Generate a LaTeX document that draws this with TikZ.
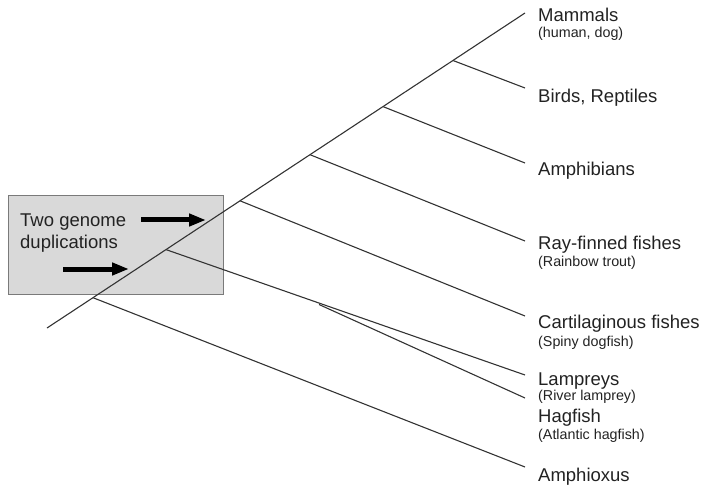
\documentclass[tikz,border=0pt]{standalone}
\usepackage{fontspec}
\setmainfont{Liberation Sans}
\usetikzlibrary{arrows.meta}
\definecolor{ink}{HTML}{222222}
\definecolor{linec}{HTML}{333333}
\definecolor{boxfill}{HTML}{D9D9D9}
\definecolor{boxline}{HTML}{7A7A7A}
\tikzset{
  branch/.style={draw=linec, line width=1.1pt},
  bigtxt/.style={anchor=base west, inner sep=0pt, text=ink, font=\fontsize{18.5}{21}\selectfont},
  smalltxt/.style={anchor=base west, inner sep=0pt, text=ink, font=\fontsize{14.3}{16}\selectfont},
  dupbox/.style={draw=boxline, fill=boxfill, line width=0.9pt},
  fatarrow/.style={draw=black, line width=5pt, -{Triangle[length=17pt,width=12pt]}}
}
\begin{document}
\begin{tikzpicture}[x=1pt,y=-1pt]
\useasboundingbox (0,0) rectangle (706,486);
% box
\draw[dupbox] (8,195) rectangle (223,294);
\node[bigtxt] (t1) at (20,227) {Two genome};
\node[bigtxt] (t2) at (20,248) {duplications};
\coordinate (a1s) at (141,220); \coordinate (a1e) at (206,220);
\coordinate (a2s) at (63,269);  \coordinate (a2e) at (129,269);
\draw[fatarrow] (a1s) -- (a1e);
\draw[fatarrow] (a2s) -- (a2e);
% tree
\coordinate (root) at (47,328);
\coordinate (top) at (525,13);
\coordinate (bBirds) at (453,60.5);
\coordinate (bAmph) at (383,106.6);
\coordinate (bRay) at (310,154.7);
\coordinate (bCart) at (240,200.8);
\coordinate (bLamp) at (166,249.6);
\coordinate (bHag) at (319,304.5);
\coordinate (bAmphi) at (93,297.7);
\coordinate (eBirds) at (525,88);
\coordinate (eAmph) at (525,163);
\coordinate (eRay) at (525,241);
\coordinate (eCart) at (525,316);
\coordinate (eLamp) at (525,375);
\coordinate (eHag) at (525,398);
\coordinate (eAmphi) at (525,467);
\draw[branch] (root) -- (top);
\draw[branch] (bBirds) -- (eBirds);
\draw[branch] (bAmph) -- (eAmph);
\draw[branch] (bRay) -- (eRay);
\draw[branch] (bCart) -- (eCart);
\draw[branch] (bLamp) -- (eLamp);
\draw[branch] (bHag) -- (eHag);
\draw[branch] (bAmphi) -- (eAmphi);
% labels
\node[bigtxt] (lMam) at (538,22) {Mammals};
\node[smalltxt] (sMam) at (538,38) {(human, dog)};
\node[bigtxt] (lBird) at (538,103) {Birds, Reptiles};
\node[bigtxt] (lAmph) at (538,176) {Amphibians};
\node[bigtxt] (lRay) at (538,250) {Ray-finned fishes};
\node[smalltxt] (sRay) at (538,266) {(Rainbow trout)};
\node[bigtxt] (lCart) at (538,328) {Cartilaginous fishes};
\node[smalltxt] (sCart) at (538,346) {(Spiny dogfish)};
\node[bigtxt] (lLamp) at (538,385) {Lampreys};
\node[smalltxt] (sLamp) at (538,400) {(River lamprey)};
\node[bigtxt] (lHag) at (538,422) {Hagfish};
\node[smalltxt] (sHag) at (538,439) {(Atlantic hagfish)};
\node[bigtxt] (lAmphi) at (538,481) {Amphioxus};
\end{tikzpicture}
\end{document}
